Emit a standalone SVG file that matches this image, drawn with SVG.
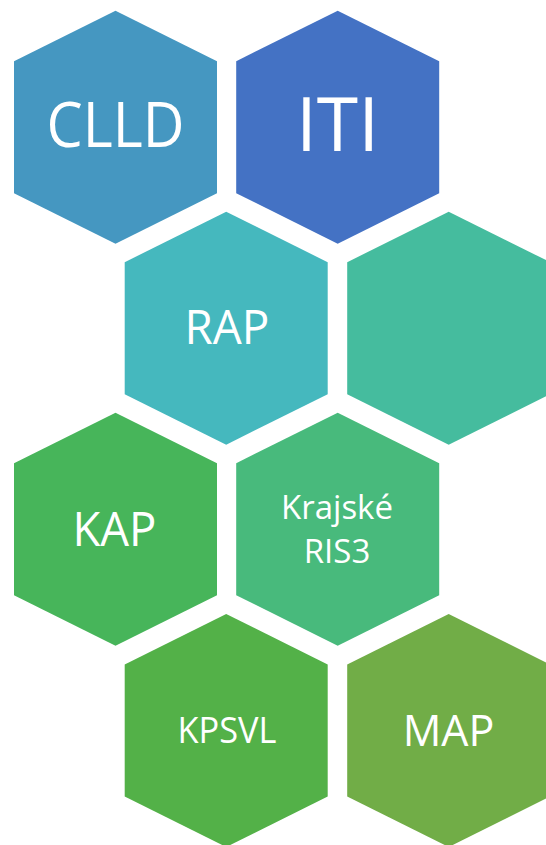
<svg xmlns="http://www.w3.org/2000/svg" width="546" height="845" viewBox="0 0 546 845">
<defs>
<style>
.hex{stroke:none}
.t{font-family:"Open Sans","Noto Sans","DejaVu Sans",sans-serif;fill:#ffffff;text-anchor:middle}
</style>
<polygon id="h" points="0,0 101.5,50.5 101.5,182.5 0,233 -101.5,182.5 -101.5,50.5"/>
</defs>
<rect width="546" height="845" fill="#ffffff"/>
<g id="clld">
<use href="#h" x="115.5" y="10.7" fill="#4597C1"/>
<text class="t" x="115.5" y="146.7" font-size="62" textLength="138" lengthAdjust="spacingAndGlyphs">CLLD</text>
</g>
<g id="iti">
<use href="#h" x="337.7" y="10.7" fill="#4472C4"/>
<text class="t" x="337.5" y="151" font-size="75">ITI</text>
</g>
<g id="rap">
<use href="#h" x="226.2" y="211.7" fill="#45B8BE"/>
<text class="t" x="227" y="344" font-size="47" textLength="85" lengthAdjust="spacingAndGlyphs">RAP</text>
</g>
<g id="empty">
<use href="#h" x="448.7" y="211.7" fill="#45BC9E"/>
</g>
<g id="kap">
<use href="#h" x="115.5" y="412.7" fill="#47B55A"/>
<text class="t" x="114.5" y="545.7" font-size="48" textLength="84" lengthAdjust="spacingAndGlyphs">KAP</text>
</g>
<g id="ris3">
<use href="#h" x="337.7" y="412.7" fill="#48BA7C"/>
<text class="t" x="337" y="519" font-size="33">Krajské</text>
<text class="t" x="337" y="563.3" font-size="33">RIS3</text>
</g>
<g id="kpsvl">
<use href="#h" x="226.2" y="614" fill="#53B148"/>
<text class="t" x="227" y="743.3" font-size="36" textLength="99" lengthAdjust="spacingAndGlyphs">KPSVL</text>
</g>
<g id="map">
<use href="#h" x="448.7" y="614" fill="#71AD47"/>
<text class="t" x="448.5" y="745.7" font-size="43">MAP</text>
</g>
<g id="connectors"/>
</svg>
